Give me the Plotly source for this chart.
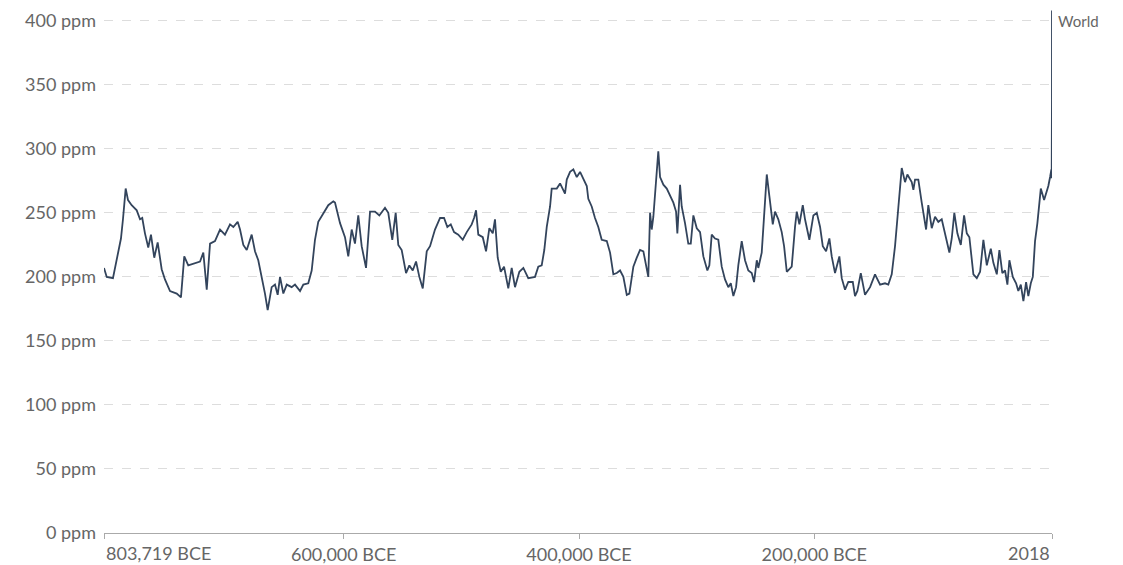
import plotly.graph_objects as go

# Year (negative = BCE) and CO2 concentration (ppm)
years = [
    -803719, -801400, -796100, -792700, -789300, -787600, -785300, -783300, -780200, -775900,
    -773100, -771200, -768900, -766100, -763800, -761000, -758100, -754700, -751900, -747600,
    -741900, -738300, -735500, -732100, -726400, -722100, -719300, -716400, -713600, -709400,
    -705100, -700900, -696600, -693800, -690100, -688100, -685300, -682400, -678200, -675400,
    -672600, -669700, -666900, -664600, -661200, -658400, -656100, -654100, -651300, -648400,
    -644200, -641400, -637100, -634300, -630100, -627200, -624400, -621600, -617300, -613100,
    -608800, -607400, -603100, -598900, -596100, -593200, -590400, -587600, -584700, -581000,
    -577600, -573400, -569700, -564900, -562100, -558700, -555800, -553600, -550700, -547000,
    -544200, -541300, -538500, -535700, -532800, -529400, -526600, -522400, -518100, -514700,
    -511900, -509000, -506200, -502600, -498800, -495400, -491200, -489200, -487500, -485600,
    -481800, -479000, -476200, -473300, -471400, -469100, -466500, -463700, -460100, -457200,
    -454400, -450700, -447300, -443100, -437400, -434600, -431700, -429500, -427400, -424600,
    -423200, -418900, -416100, -411900, -410400, -407600, -404800, -401900, -399100, -396300,
    -393400, -392100, -389200, -386400, -383600, -380700, -376400, -373600, -370800, -367900,
    -365100, -362300, -359400, -357200, -353800, -350900, -348100, -345300, -342400, -341100,
    -339600, -338200, -336800, -334500, -332600, -331100, -328300, -325400, -322600, -319800,
    -317500, -316400, -314100, -312700, -309900, -307100, -305000, -302800, -299900, -297100,
    -294300, -290900, -289200, -287200, -284400, -281600, -278700, -275900, -273100, -271000,
    -268800, -266500, -264600, -261700, -258900, -256100, -253200, -251200, -248900, -247600,
    -244700, -242700, -240400, -238200, -235300, -233400, -230600, -227700, -225700, -223400,
    -219200, -216400, -214900, -212700, -209800, -207900, -204200, -200800, -197900, -195100,
    -192800, -190000, -187200, -185200, -182400, -178700, -176700, -173900, -171100, -167300,
    -165400, -163400, -160500, -156900, -152600, -148400, -144100, -139900, -137100, -134200,
    -131400, -128600, -125700, -122900, -120900, -117200, -115800, -114400, -111600, -108700,
    -105000, -103100, -100200, -97400, -94600, -91700, -88900, -85200, -83200, -81000,
    -78400, -75500, -72700, -70400, -68200, -66200, -64800, -61900, -59100, -56300,
    -53400, -50000, -47800, -44900, -42700, -40200, -37900, -35900, -34200, -31300,
    -28500, -26600, -24500, -22300, -20000, -18100, -16000, -14300, -12400, -10400,
    -7500, -4700, -1100, 400, 1500, 1750, 1850, 1950, 1980, 2000, 2018,
]
co2_ppm = [
    207, 200, 199, 215, 230, 245, 269, 260, 256, 252,
    245, 246, 234, 223, 233, 215, 227, 206, 198, 189,
    187, 184, 216, 209, 211, 212, 219, 190, 226, 228,
    237, 233, 241, 239, 243, 237, 225, 221, 233, 220,
    213, 200, 187, 174, 192, 194, 186, 200, 187, 194,
    192, 194, 189, 194, 195, 205, 229, 243, 250, 256,
    259, 258, 242, 231, 216, 237, 226, 248, 224, 207,
    251, 251, 248, 254, 250, 229, 250, 225, 221, 203,
    209, 205, 212, 200, 191, 220, 224, 237, 246, 246,
    239, 241, 235, 233, 229, 235, 241, 246, 252, 233,
    231, 220, 238, 234, 245, 215, 204, 208, 191, 207,
    192, 204, 207, 199, 200, 208, 209, 221, 239, 255,
    269, 269, 273, 265, 276, 282, 284, 278, 282, 277,
    271, 261, 255, 246, 239, 229, 228, 219, 202, 203,
    205, 200, 186, 187, 208, 215, 221, 220, 204, 200,
    250, 237, 247, 278, 298, 278, 272, 269, 263, 258,
    251, 234, 272, 255, 242, 226, 226, 248, 238, 235,
    216, 205, 209, 233, 230, 229, 208, 198, 192, 195,
    185, 192, 209, 228, 213, 205, 203, 196, 213, 207,
    219, 245, 280, 263, 241, 251, 245, 235, 224, 204,
    208, 239, 251, 241, 256, 245, 229, 248, 250, 239,
    224, 220, 230, 216, 203, 216, 199, 190, 196, 196,
    185, 189, 203, 186, 192, 202, 194, 195, 194, 202,
    224, 254, 285, 274, 280, 274, 268, 276, 276, 258,
    237, 256, 238, 247, 243, 245, 234, 219, 230, 250,
    234, 225, 248, 234, 231, 216, 202, 199, 204, 229,
    209, 222, 211, 202, 221, 203, 205, 194, 213, 200,
    195, 189, 194, 181, 196, 185, 195, 200, 228, 242,
    269, 260, 271, 278, 284, 277, 285, 311, 339, 370, 408,
]

series_name = "World"
y_tick_values = [0, 50, 100, 150, 200, 250, 300, 350, 400]
y_tick_labels = [f"{v} ppm" for v in y_tick_values]
x_tick_values = [-803719, -600000, -400000, -200000, 2018]
x_tick_labels = ["803,719 BCE", "600,000 BCE", "400,000 BCE", "200,000 BCE", "2018"]

FONT = "Lato, 'Open Sans', sans-serif"
GRAY = "#666666"
LINE = "#33445c"
TICK_SIZE = 18

fig = go.Figure()
fig.add_trace(go.Scatter(
    x=years, y=co2_ppm, mode="lines", name=series_name,
    line=dict(color=LINE, width=1.8), showlegend=False,
    cliponaxis=False,
))

fig.update_layout(
    width=1115, height=557,
    margin=dict(l=96, r=71, t=0, b=32),
    paper_bgcolor="white", plot_bgcolor="white",
    font=dict(family=FONT, color=GRAY, size=TICK_SIZE),
    xaxis=dict(
        range=[x_tick_values[0], x_tick_values[-1]],
        tickmode="array", tickvals=x_tick_values,
        ticktext=[""] + x_tick_labels[1:-1] + [""],
        showgrid=False, zeroline=False, automargin=False,
        showline=True, linecolor="#aaaaaa", linewidth=1,
        ticks="outside", ticklen=5, tickcolor="#aaaaaa",
        tickfont=dict(size=TICK_SIZE, color=GRAY, family=FONT),
    ),
    yaxis=dict(
        range=[0, 410], automargin=False,
        tickmode="array", tickvals=y_tick_values, ticktext=y_tick_labels,
        showgrid=True, gridcolor="#dddddd", griddash="dash", gridwidth=1,
        zeroline=False, showline=False, ticks="",
        ticklabelstandoff=7,
        tickfont=dict(size=TICK_SIZE, color=GRAY, family=FONT),
    ),
)

# end tick labels aligned to the axis ends
fig.add_annotation(x=x_tick_values[0], y=0, xref="x", yref="y", text=x_tick_labels[0],
                   showarrow=False, xanchor="left", yanchor="top", yshift=-7,
                   font=dict(size=TICK_SIZE, color=GRAY, family=FONT))
fig.add_annotation(x=x_tick_values[-1], y=0, xref="x", yref="y", text=x_tick_labels[-1],
                   showarrow=False, xanchor="right", yanchor="top", yshift=-7,
                   font=dict(size=TICK_SIZE, color=GRAY, family=FONT))
# series label
fig.add_annotation(x=years[-1], y=co2_ppm[-1], xref="x", yref="y", text=series_name,
                   showarrow=False, xanchor="left", yanchor="middle", xshift=4, yshift=-10,
                   font=dict(size=15, color=GRAY, family=FONT))

fig.write_html("out.html")
